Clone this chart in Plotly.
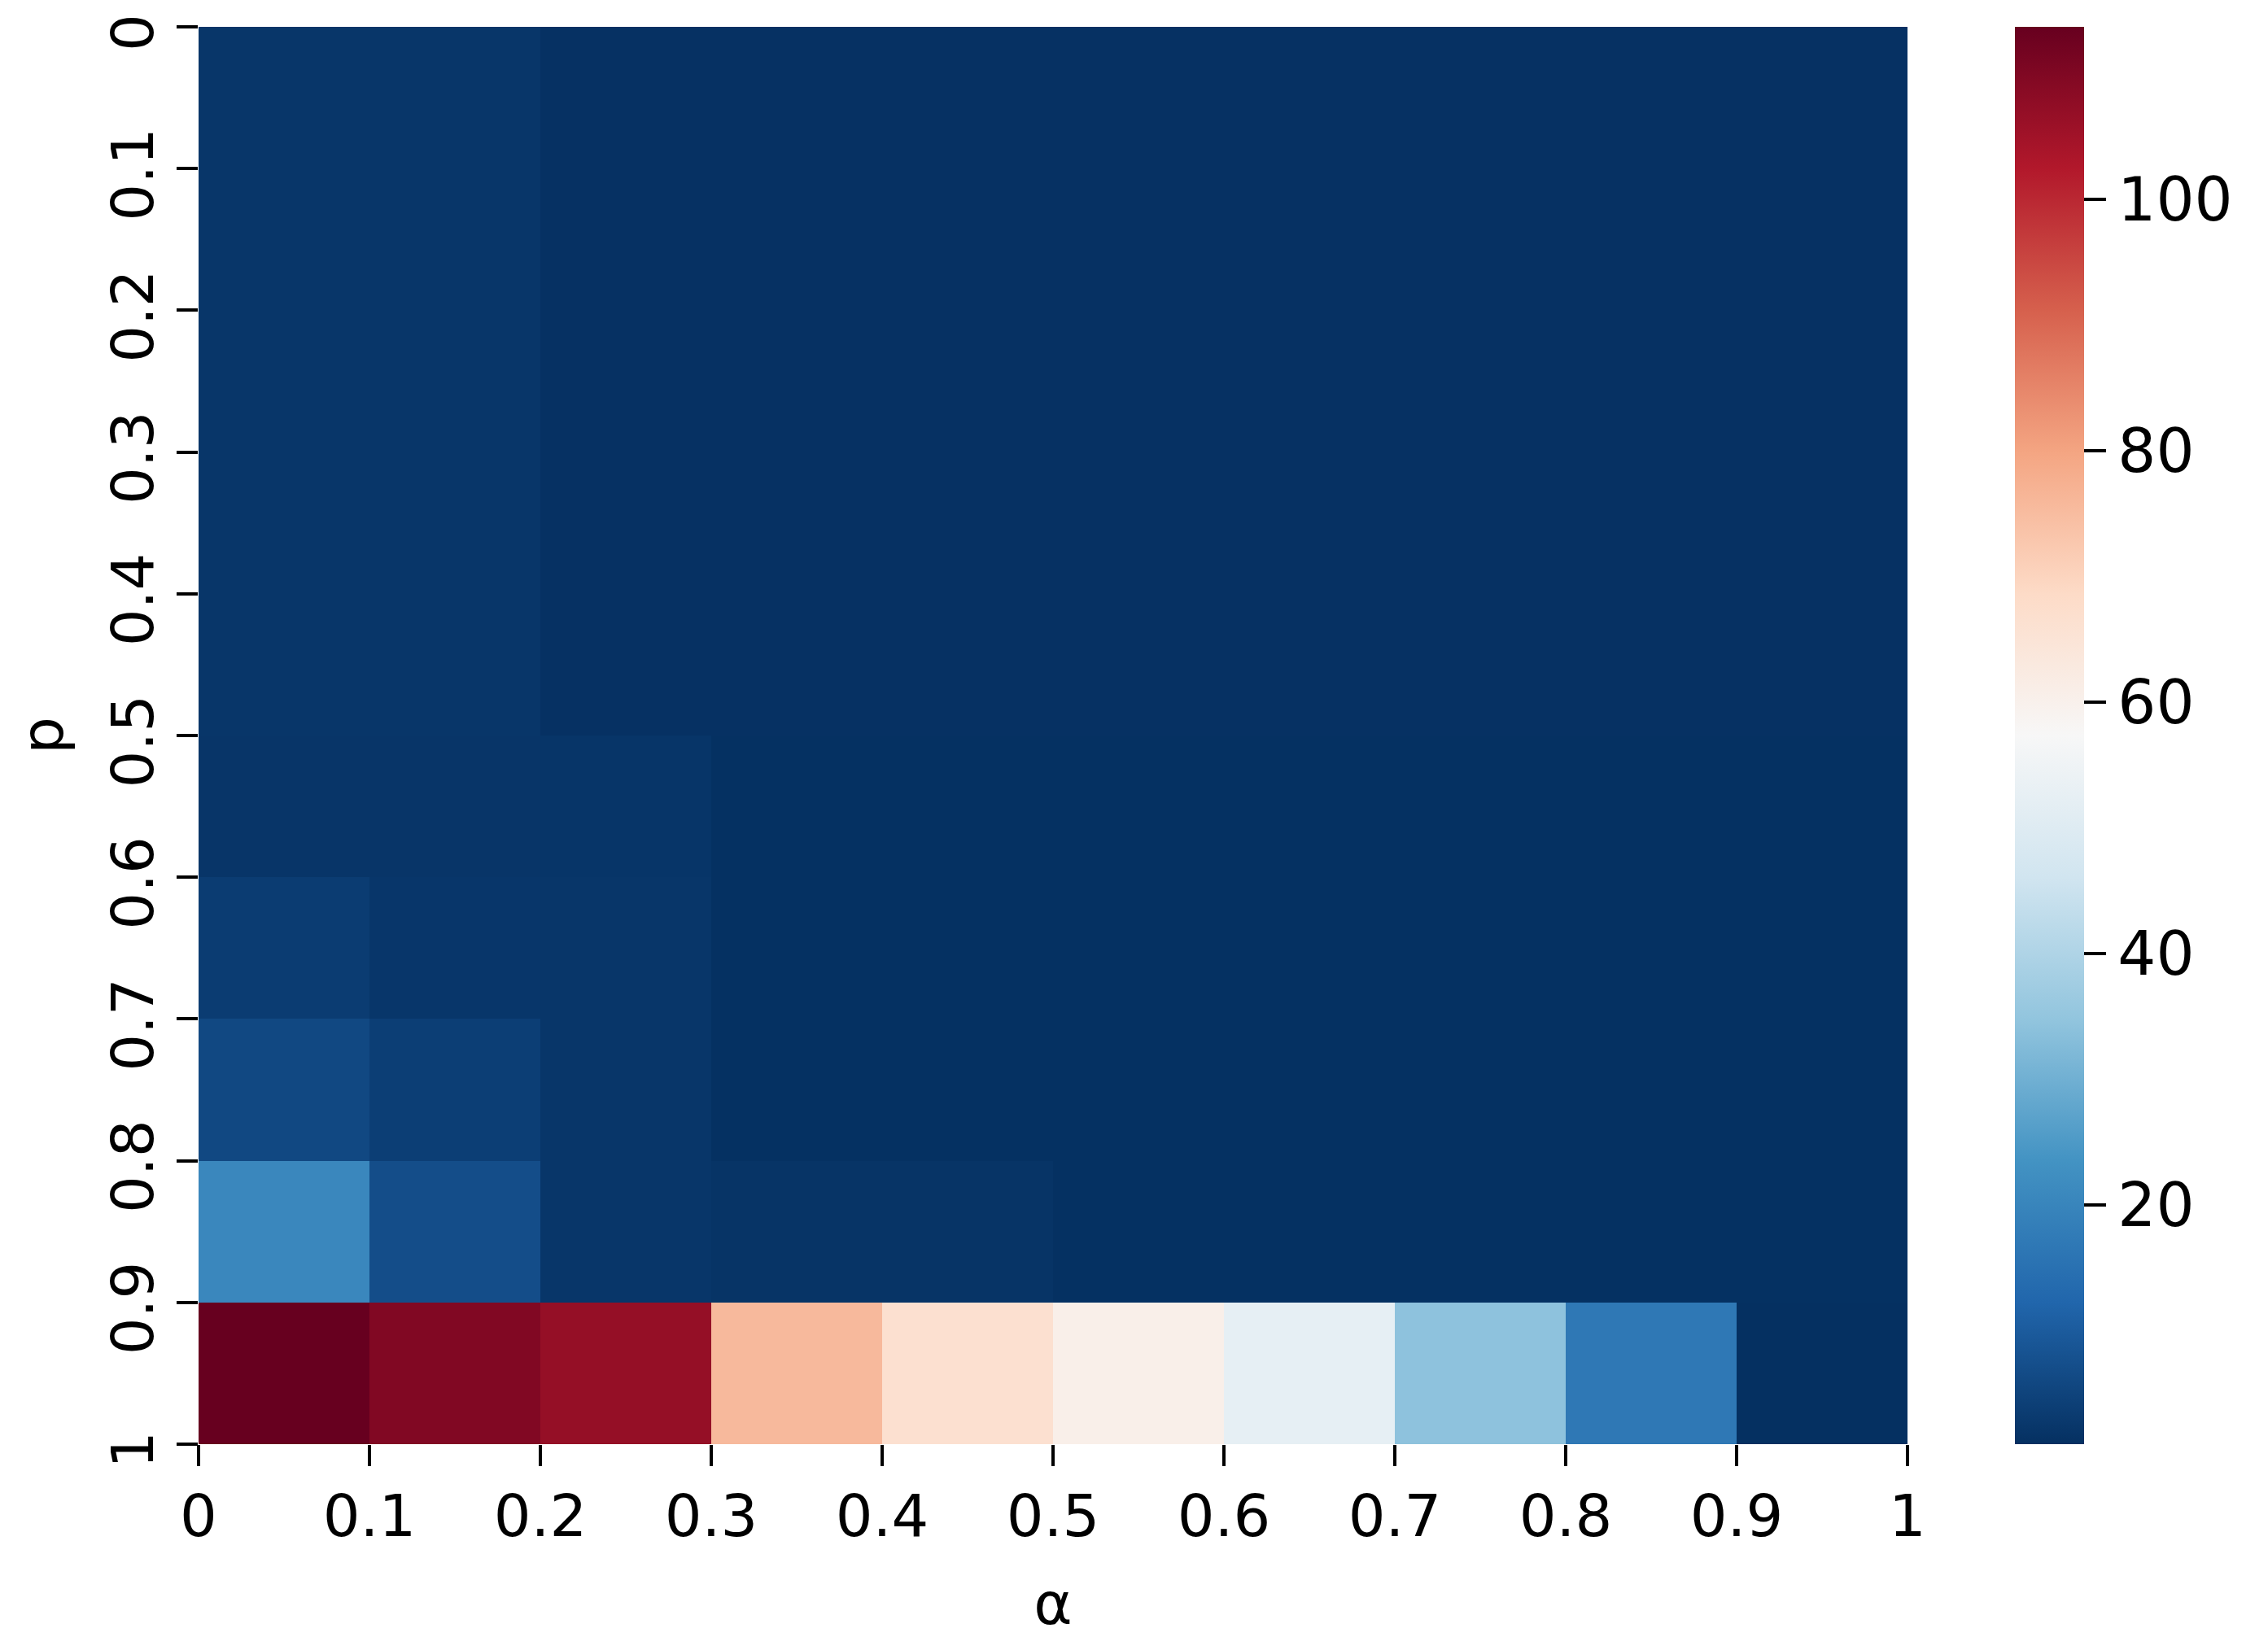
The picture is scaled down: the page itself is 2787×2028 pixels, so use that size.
import plotly.graph_objects as go

# bin edges
alpha_edges = [0, 0.1, 0.2, 0.3, 0.4, 0.5, 0.6, 0.7, 0.8, 0.9, 1.0]
p_edges = [0, 0.1, 0.2, 0.3, 0.4, 0.5, 0.6, 0.7, 0.8, 0.9, 1.0]
tick_labels = ["0", "0.1", "0.2", "0.3", "0.4", "0.5", "0.6", "0.7", "0.8", "0.9", "1"]

# rows: p bins (0-0.1 ... 0.9-1), columns: alpha bins (0-0.1 ... 0.9-1)
row_p00 = [2.2, 2.2, 1.3, 1.3, 1.3, 1.3, 1.3, 1.3, 1.3, 1.3]
row_p01 = [2.2, 2.2, 1.3, 1.3, 1.3, 1.3, 1.3, 1.3, 1.3, 1.3]
row_p02 = [2.2, 2.2, 1.3, 1.3, 1.3, 1.3, 1.3, 1.3, 1.3, 1.3]
row_p03 = [2.2, 2.2, 1.3, 1.3, 1.3, 1.3, 1.3, 1.3, 1.3, 1.3]
row_p04 = [2.2, 2.2, 1.3, 1.3, 1.3, 1.3, 1.3, 1.3, 1.3, 1.3]
row_p05 = [2.1, 2.1, 2.0, 1.2, 1.2, 1.2, 1.2, 1.2, 1.2, 1.2]
row_p06 = [3.5, 2.3, 2.2, 1.2, 1.2, 1.2, 1.2, 1.2, 1.2, 1.2]
row_p07 = [6.0, 4.0, 2.2, 1.2, 1.2, 1.2, 1.2, 1.2, 1.2, 1.2]
row_p08 = [20.5, 7.0, 2.2, 1.8, 1.8, 1.2, 1.2, 1.2, 1.2, 1.2]
row_p09 = [113.7, 109.8, 106.8, 75.7, 66.6, 60.6, 52.3, 34.2, 16.9, 1.0]

z = [row_p00, row_p01, row_p02, row_p03, row_p04,
     row_p05, row_p06, row_p07, row_p08, row_p09]

rdbu_r = ["#053061", "#2166ac", "#4393c3", "#92c5de", "#d1e5f0", "#f7f7f7",
          "#fddbc7", "#f4a582", "#d6604d", "#b2182b", "#67001f"]
colorscale = [[i / 10, c] for i, c in enumerate(rdbu_r)]

FONT = "DejaVu Sans"
FS = 72

fig = go.Figure(go.Heatmap(
    x=alpha_edges, y=p_edges, z=z,
    colorscale=colorscale,
    zmin=1.0, zmax=113.7,
    colorbar=dict(
        thickness=85, len=1.0, lenmode="fraction", y=0.5, yanchor="middle",
        x=1.063, xanchor="left", xpad=0, ypad=0,
        outlinewidth=0,
        tickvals=[20, 40, 60, 80, 100],
        tickprefix="\u2005",
        ticks="outside", ticklen=27, tickwidth=4, tickcolor="black",
        tickfont=dict(family=FONT, size=74, color="black"),
    ),
))

fig.update_layout(
    width=2787, height=2028,
    margin=dict(l=236, r=451, t=25, b=261),
    paper_bgcolor="white", plot_bgcolor="white",
    font=dict(family=FONT, size=FS, color="black"),
    xaxis=dict(
        range=[0, 1], tickvals=alpha_edges, ticktext=tick_labels,
        ticks="outside", ticklen=26, tickwidth=4, tickcolor="black",
        tickfont=dict(family=FONT, size=FS, color="black"),
        showgrid=False, zeroline=False, showline=False,
        automargin=False, ticklabeloverflow="allow",
        title=dict(text="α", font=dict(family=FONT, size=FS), standoff=41),
    ),
    yaxis=dict(
        range=[1, 0], tickvals=p_edges, ticktext=tick_labels,
        ticks="outside", ticklen=26, tickwidth=4, tickcolor="black",
        tickangle=-90, ticklabelshift=-18,
        tickfont=dict(family=FONT, size=FS, color="black"),
        showgrid=False, zeroline=False, showline=False,
        automargin=False, ticklabeloverflow="allow",
        title=dict(text="p", font=dict(family=FONT, size=FS), standoff=20),
    ),
)

fig.write_html("out.html")
